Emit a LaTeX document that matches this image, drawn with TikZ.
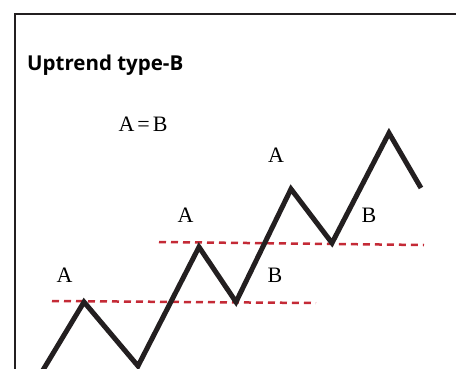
\documentclass[tikz,border=0pt]{standalone}
\usepackage{fontspec}
\setmainfont{Liberation Serif}
\newfontfamily\headfont{Open Sans}
\usepackage{xcolor}
\usetikzlibrary{positioning,calc}

\definecolor{trendred}{HTML}{C42A36}
\definecolor{inkblack}{HTML}{231F20}

\tikzset{
  legtxt/.style={inner sep=0pt, font=\fontsize{22}{26}\selectfont},
  zigzag/.style={line width=5pt, draw=inkblack, line join=miter},
  support/.style={line width=2.5pt, draw=trendred, dash pattern=on 7pt off 5pt}
}

\begin{document}
\begin{tikzpicture}[x=1pt, y=-1pt]
\useasboundingbox (0,0) rectangle (456,368);
\clip (0,0) rectangle (456,368);
% frame (only left and top edges in view)
\draw[line width=2pt, draw=inkblack] (15,400) -- (15,14) -- (480,14);
% title
\node[anchor=base west, inner sep=0pt, font=\headfont\bfseries\fontsize{20.5}{24}\selectfont] (title) at (27,70.5) {Uptrend type-B};
\node[legtxt] (eq) at (143,124) {A\kern3pt=\kern3pt B};
% swing points
\coordinate (p0) at (40,375);
\coordinate (p1) at (84,302);
\coordinate (p2) at (138,366);
\coordinate (p3) at (199,247);
\coordinate (p4) at (236,302);
\coordinate (p5) at (291,189);
\coordinate (p6) at (332,243);
\coordinate (p7) at (389,133);
\coordinate (p8) at (421,188);
% support levels
\coordinate (s1a) at (52,301);
\coordinate (s1b) at (316,303);
\coordinate (s2a) at (159,242);
\coordinate (s2b) at (424,245);
\draw[support] (s1a) -- (s1b);
\draw[support] (s2a) -- (s2b);
% price path
\draw[zigzag] (p0) -- (p1) -- (p2) -- (p3) -- (p4) -- (p5) -- (p6) -- (p7) -- (p8);
% legs
\node[legtxt] (a1) at (64.5,275.5) {A};
\node[legtxt] (a2) at (185.5,215) {A};
\node[legtxt] (a3) at (276,155) {A};
\node[legtxt] (b1) at (275,275.5) {B};
\node[legtxt] (b2) at (369,215) {B};
\end{tikzpicture}
\end{document}
